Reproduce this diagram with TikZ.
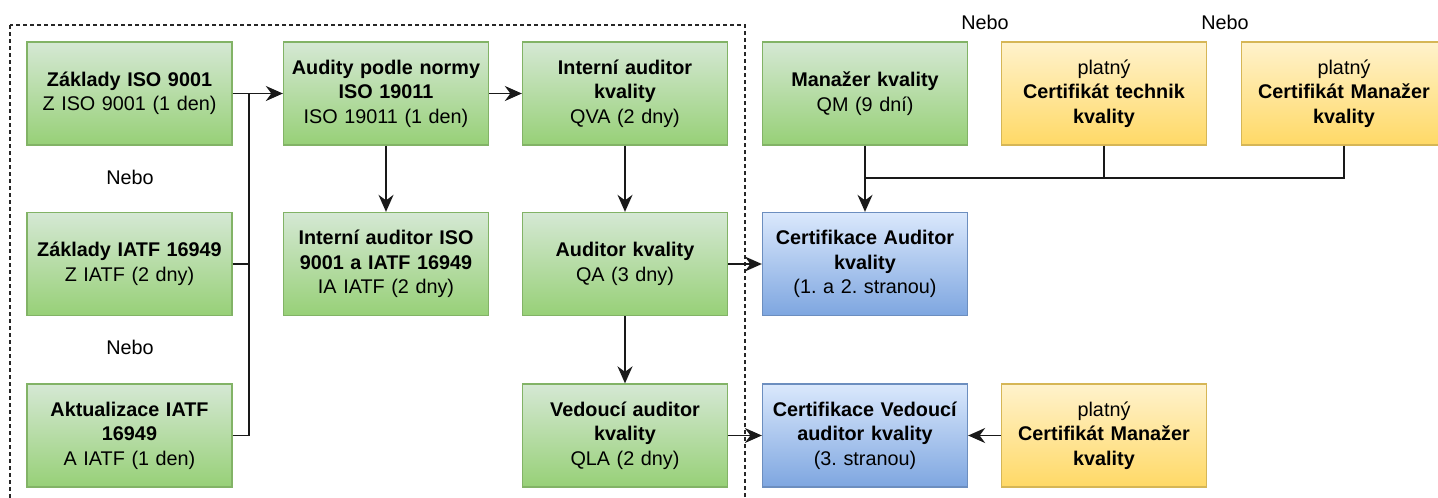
\documentclass[tikz,border=0pt]{standalone}
\usepackage{fontspec}
\setmainfont{Liberation Sans}
\usetikzlibrary{arrows.meta}
\frenchspacing
\definecolor{gTop}{HTML}{D5E8D4}\definecolor{gBot}{HTML}{97D077}\definecolor{gLine}{HTML}{82B366}
\definecolor{bTop}{HTML}{DAE8FC}\definecolor{bBot}{HTML}{7EA6E0}\definecolor{bLine}{HTML}{6C8EBF}
\definecolor{yTop}{HTML}{FFF2CC}\definecolor{yBot}{HTML}{FFD966}\definecolor{yLine}{HTML}{D6B656}
\tikzset{
  box/.style={rectangle, minimum width=205pt, minimum height=103pt, inner sep=0pt,
    text width=200pt, align=center, line width=1.3pt,
    font=\fontsize{19.8}{24.5}\selectfont\frenchspacing},
  gbox/.style={box, draw=gLine, top color=gTop, bottom color=gBot},
  bbox/.style={box, draw=bLine, top color=bTop, bottom color=bBot},
  ybox/.style={box, draw=yLine, top color=yTop, bottom color=yBot},
  conn/.style={line width=1.6pt, draw=black!90},
  arr/.style={conn, -{Stealth[length=17pt,width=15pt,inset=5.5pt]}},
  lbl/.style={font=\fontsize{19.8}{24}\selectfont, inner sep=0pt},
  group/.style={dash pattern=on 4pt off 3pt, line width=1.2pt, draw=black!85}
}
\begin{document}
\begin{tikzpicture}[x=1pt,y=-1pt]
\useasboundingbox[fill=white] (0,0) rectangle (1438,498);
\draw[group] (10,25) rectangle (745,520);
% column 1
\node[gbox] (z9001) at (129.5,93.5) {\textbf{Základy ISO 9001}\\Z ISO 9001 (1 den)};
\node[gbox] (ziatf) at (129.5,264) {\textbf{Základy IATF 16949}\\Z IATF (2 dny)};
\node[gbox] (aiatf) at (129.5,435.5) {\textbf{Aktualizace IATF}\\\textbf{16949}\\A IATF (1 den)};
\node[lbl] (nebo1) at (130,177) {Nebo};
\node[lbl] (nebo2) at (130,347) {Nebo};
% column 2
\node[gbox] (audity) at (386,93.5) {\textbf{Audity podle normy}\\\textbf{ISO 19011}\\ISO 19011 (1 den)};
\node[gbox] (iaiatf) at (386,264) {\textbf{Interní auditor ISO}\\\textbf{9001 a IATF 16949}\\IA IATF (2 dny)};
% column 3
\node[gbox] (qva) at (625,93.5) {\textbf{Interní auditor}\\\textbf{kvality}\\QVA (2 dny)};
\node[gbox] (qa) at (625,264) {\textbf{Auditor kvality}\\QA (3 dny)};
\node[gbox] (qla) at (625,435.5) {\textbf{Vedoucí auditor}\\\textbf{kvality}\\QLA (2 dny)};
% column 4
\node[gbox] (qm) at (865,93.5) {\textbf{Manažer kvality}\\QM (9 dní)};
\node[bbox] (certa) at (865,264) {\textbf{Certifikace Auditor}\\\textbf{kvality}\\(1. a 2. stranou)};
\node[bbox] (certv) at (865,435.5) {\textbf{Certifikace Vedoucí}\\\textbf{auditor kvality}\\(3. stranou)};
% column 5/6
\node[ybox] (ctech) at (1104,93.5) {platný\\\textbf{Certifikát technik}\\\textbf{kvality}};
\node[ybox] (cman) at (1344,93.5) {platný\\\textbf{Certifikát Manažer}\\\textbf{kvality}};
\node[ybox] (cman2) at (1104,435.5) {platný\\\textbf{Certifikát Manažer}\\\textbf{kvality}};
\node[lbl] (nebo3) at (985,22) {Nebo};
\node[lbl] (nebo4) at (1225,22) {Nebo};
% connectors
\coordinate (jt) at (249,93.5);
\coordinate (jb) at (249,435.5);
\draw[arr] (z9001.east) -- (audity.west);
\draw[conn] (aiatf.east) -- (jb) -- (jt);
\draw[conn] (ziatf.east) -- (ziatf.east -| jt);
\draw[arr] (audity.east) -- (qva.west);
\draw[arr] (audity.south) -- (iaiatf.north);
\draw[arr] (qva.south) -- (qa.north);
\draw[arr] (qa.south) -- (qla.north);
\draw[arr] (qa.east) -- (certa.west);
\draw[arr] (qla.east) -- (certv.west);
\draw[arr] (cman2.west) -- (certv.east);
\coordinate (m) at (865,178);
\draw[arr] (qm.south) -- (certa.north);
\draw[conn] (ctech.south) |- (m);
\draw[conn] (cman.south) |- (m);
\end{tikzpicture}
\end{document}
